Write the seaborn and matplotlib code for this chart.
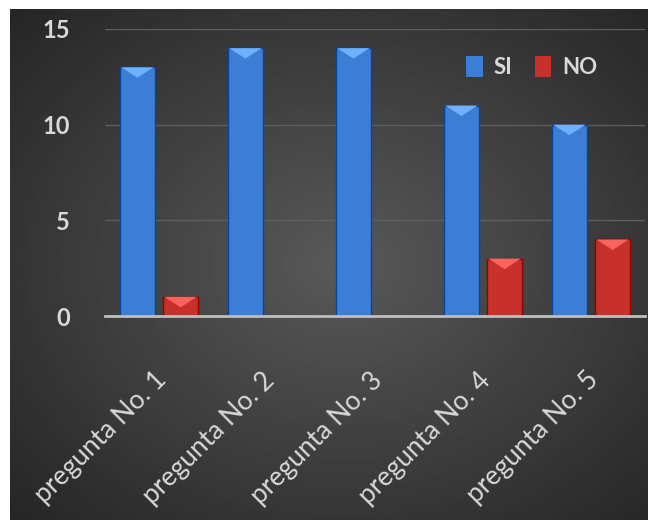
import numpy as np
import pandas as pd
import matplotlib
matplotlib.use("Agg")
import matplotlib.pyplot as plt
import seaborn as sns
from matplotlib.transforms import ScaledTranslation
from matplotlib.patches import Polygon

# ---------- data ----------
preguntas = ["pregunta No. 1", "pregunta No. 2", "pregunta No. 3",
             "pregunta No. 4", "pregunta No. 5"]
si = [13, 14, 14, 11, 10]
no = [1, 0, 0, 3, 4]
y_ticks = [0, 5, 10, 15]

df = pd.DataFrame({
    "pregunta": preguntas * 2,
    "respuesta": ["SI"] * len(si) + ["NO"] * len(no),
    "cantidad": si + no,
})

sns.set_style("dark")
plt.rcParams["font.family"] = ["Lato", "DejaVu Sans"]
text_col = "#d9d9d9"

fig = plt.figure(figsize=(6.55, 5.27), dpi=100)
fig.patch.set_facecolor("white")

# dark radial-gradient panel behind the chart
bg = fig.add_axes([10 / 655, 7 / 527, 638 / 655, 511 / 527])
yy, xx = np.mgrid[0:1:300j, 0:1:360j]
r = np.sqrt(((xx - 0.52) / 0.75) ** 2 + ((yy - 0.5) / 0.75) ** 2)
shade = np.clip(0.35 - 0.21 * r, 0.15, 0.35)
bg.imshow(shade, cmap="gray", vmin=0, vmax=1, aspect="auto",
          extent=[0, 1, 0, 1], interpolation="bilinear")
bg.axis("off")

# main chart
ax = fig.add_axes([105 / 655, 211 / 527, 540 / 655, 287 / 527])
ax.set_facecolor("none")
sns.barplot(data=df, x="pregunta", y="cantidad", hue="respuesta",
            palette={"SI": "#3c7dd6", "NO": "#c8302c"}, saturation=1,
            width=0.8, gap=0.2, linewidth=1.0,
            ax=ax, zorder=3)

# beveled tops, taken from the bars themselves
for bar in ax.patches:
    h = bar.get_height()
    if h <= 0:
        continue
    x0 = bar.get_x()
    w = bar.get_width()
    fc = np.array(bar.get_facecolor()[:3])
    light = np.clip(fc + 0.2, 0, 1)
    bar.set_edgecolor(np.clip(fc - 0.22, 0, 1))
    tri = Polygon([(x0 + 0.01, h), (x0 + w - 0.01, h),
                   (x0 + w * 0.5, h - 0.55)], closed=True,
                  facecolor=light, edgecolor="none", zorder=4)
    ax.add_patch(tri)

ax.set_ylim(0, 15)
ax.set_yticks(y_ticks)
ax.set_xlabel("")
ax.set_ylabel("")
ax.yaxis.grid(True, color="#5e5e5e", linewidth=1)
ax.xaxis.grid(False)
for s in ["left", "right", "top"]:
    ax.spines[s].set_visible(False)
ax.spines["bottom"].set_color("#bfbfbf")
ax.spines["bottom"].set_linewidth(2)
ax.spines["bottom"].set_zorder(5)

ax.tick_params(axis="y", length=0, pad=25, labelsize=17, labelcolor=text_col)
for lab in ax.get_yticklabels():
    lab.set_fontweight("bold")
ax.tick_params(axis="x", length=0, pad=37, labelsize=19, labelcolor=text_col)
for lab in ax.get_xticklabels():
    lab.set_rotation(45)
    lab.set_ha("right")
    lab.set_va("top")
    lab.set_rotation_mode("anchor")
    lab.set_transform(lab.get_transform() +
                      ScaledTranslation(-0.05, 0, fig.dpi_scale_trans))

handles, labels = ax.get_legend_handles_labels()
for hd in handles:
    hd.set_edgecolor("none")
ax.legend(handles, labels, loc="upper left",
          bbox_to_anchor=(446 / 655, 1 - 36 / 527),
          bbox_transform=fig.transFigure, ncol=2, frameon=False,
          labelcolor=text_col, handlelength=0.75,
          handleheight=1.1, handletextpad=0.5, columnspacing=1.0,
          prop={"weight": "bold", "size": 16})

fig.savefig("out.png", dpi=100)
